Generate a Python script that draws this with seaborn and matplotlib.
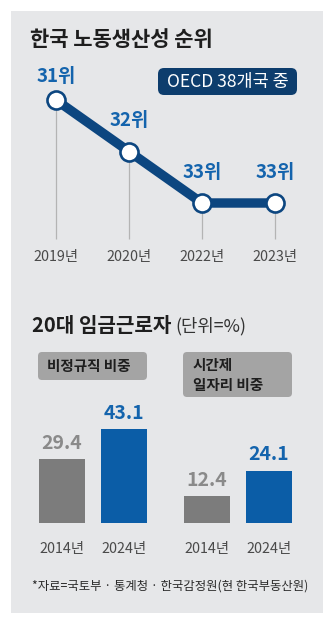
import matplotlib
matplotlib.use("Agg")
import matplotlib.pyplot as plt
from matplotlib.patches import FancyBboxPatch, Rectangle
import pandas as pd
import seaborn as sns

sns.set_theme(style="white")
plt.rcParams["font.family"] = ["Noto Sans CJK KR", "DejaVu Sans"]

# ---- data ----
rank_years = ["2019년", "2020년", "2022년", "2023년"]
ranks = [31, 32, 33, 33]
rank_labels = ["31위", "32위", "33위", "33위"]

bar_years = ["2014년", "2024년"]
nonregular_share = [29.4, 43.1]
parttime_share = [12.4, 24.1]

# ---- colours ----
PANEL = "#e6e7e9"
NAVY = "#0c4680"
LABEL_BLUE = "#1464ad"
BAR_BLUE = "#0b5da7"
BAR_GREY = "#7c7c7c"
VAL_GREY = "#8a8a8a"
TICK_GREY = "#4a4a4a"
TAG_GREY = "#a4a4a4"

W, H, DPI = 335, 624, 100
fig = plt.figure(figsize=(W / DPI, H / DPI), dpi=DPI)
fig.patch.set_facecolor("white")


def axes_px(left, top, right, bottom):
    """Add axes given pixel edges measured from the top-left corner."""
    return fig.add_axes([left / W, 1 - bottom / H, (right - left) / W, (bottom - top) / H])


def box_px(x0, y0, x1, y1, color, rounding=0.0):
    """Rounded box in pixel coordinates (top-left origin)."""
    p = FancyBboxPatch(((x0) / DPI, (H - y1) / DPI), (x1 - x0) / DPI, (y1 - y0) / DPI,
                       boxstyle=f"round,pad=0,rounding_size={rounding}",
                       transform=fig.dpi_scale_trans, facecolor=color,
                       edgecolor="none", zorder=0)
    fig.patches.append(p)


def text_px(x, y, s, **kw):
    fig.text(x / W, 1 - y / H, s, **kw)


# background panel
fig.patches.append(Rectangle((11 / W, 1 - 613 / H), 312 / W, 602 / H,
                             transform=fig.transFigure, facecolor=PANEL,
                             edgecolor="none", zorder=-1))

# ---- section 1: productivity rank ----
text_px(30, 39, "한국 노동생산성 순위", fontsize=15.1, fontweight="bold",
        color="#1e1e1e", va="center", ha="left")

box_px(158, 68, 297, 95, "#0d3d6d", rounding=0.06)
text_px(227.5, 81.5, "OECD 38개국 중", fontsize=12.6, color="white",
        ha="center", va="center")

ax = axes_px(19.5, 48.5, 311.5, 254.5)
ax.set_facecolor("none")
pos = list(range(len(ranks)))
df_rank = pd.DataFrame({"pos": pos, "rank": ranks})

ax.vlines(pos, ranks, 33.7, color="#b4b4b4", lw=0.9, zorder=1)
sns.lineplot(data=df_rank, x="pos", y="rank", ax=ax, color=NAVY, lw=6.8,
             marker="o", markersize=13, markerfacecolor="white",
             markeredgecolor=NAVY, markeredgewidth=1.9, zorder=3)
label_offsets = [23, 31, 30, 30]
for p_, r, lab, off in zip(pos, ranks, rank_labels, label_offsets):
    ax.annotate(lab, (p_, r), xytext=(0, off * 72 / DPI), textcoords="offset points",
                ha="center", va="center", fontsize=13.5, fontweight="bold",
                color=LABEL_BLUE)

ax.set_xlim(-0.5, 3.5)
ax.set_ylim(34, 30)
ax.set_xticks(pos)
ax.set_xticklabels(rank_years)
ax.tick_params(axis="x", length=0, pad=-3, labelsize=10.3, labelcolor=TICK_GREY)
ax.set_yticks([])
ax.set_xlabel("")
ax.set_ylabel("")
for s in ax.spines.values():
    s.set_visible(False)

# ---- section 2: workers in their 20s ----
text_px(32, 325, "20대 임금근로자", fontsize=14.5, fontweight="bold",
        color="#1e1e1e", va="center", ha="left")
text_px(175, 326, "(단위=%)", fontsize=12.8, color="#333333", va="center", ha="left")

box_px(38, 352, 147, 380, TAG_GREY, rounding=0.04)
text_px(47, 366, "비정규직 비중", fontsize=10.5, fontweight="bold",
        color="#1e1e1e", va="center", ha="left")
box_px(183, 352, 292, 397, TAG_GREY, rounding=0.04)
text_px(193, 365, "시간제", fontsize=10.5, fontweight="bold",
        color="#1e1e1e", va="center", ha="left")
text_px(193, 385, "일자리 비중", fontsize=10.5, fontweight="bold",
        color="#1e1e1e", va="center", ha="left")

for (left, right), values in [((31, 155), nonregular_share), ((176, 300), parttime_share)]:
    bx = axes_px(left, 414.5, right, 523)
    bx.set_facecolor("none")
    df_bar = pd.DataFrame({"year": bar_years, "value": values})
    sns.barplot(data=df_bar, x="year", y="value", hue="year",
                palette=[BAR_GREY, BAR_BLUE], width=0.74, legend=False,
                ax=bx, saturation=1, edgecolor="none")
    for i, v in enumerate(values):
        bx.annotate(f"{v:.1f}", (i, v), xytext=(0, 16 * 72 / DPI),
                    textcoords="offset points", ha="center", va="center",
                    fontsize=14, fontweight="bold",
                    color=VAL_GREY if i == 0 else LABEL_BLUE, annotation_clip=False)
    bx.set_ylim(0, 50)
    bx.set_xlim(-0.5, 1.5)
    bx.set_yticks([])
    bx.set_xlabel("")
    bx.set_ylabel("")
    bx.tick_params(axis="x", length=0, pad=14, labelsize=10.3, labelcolor=TICK_GREY)
    for s in bx.spines.values():
        s.set_visible(False)

text_px(32, 586, "*자료=국토부 · 통계청 · 한국감정원(현 한국부동산원)", fontsize=8.9,
        color="#2a2a2a", va="center", ha="left")

fig.savefig("out.png", dpi=DPI, facecolor="white")
